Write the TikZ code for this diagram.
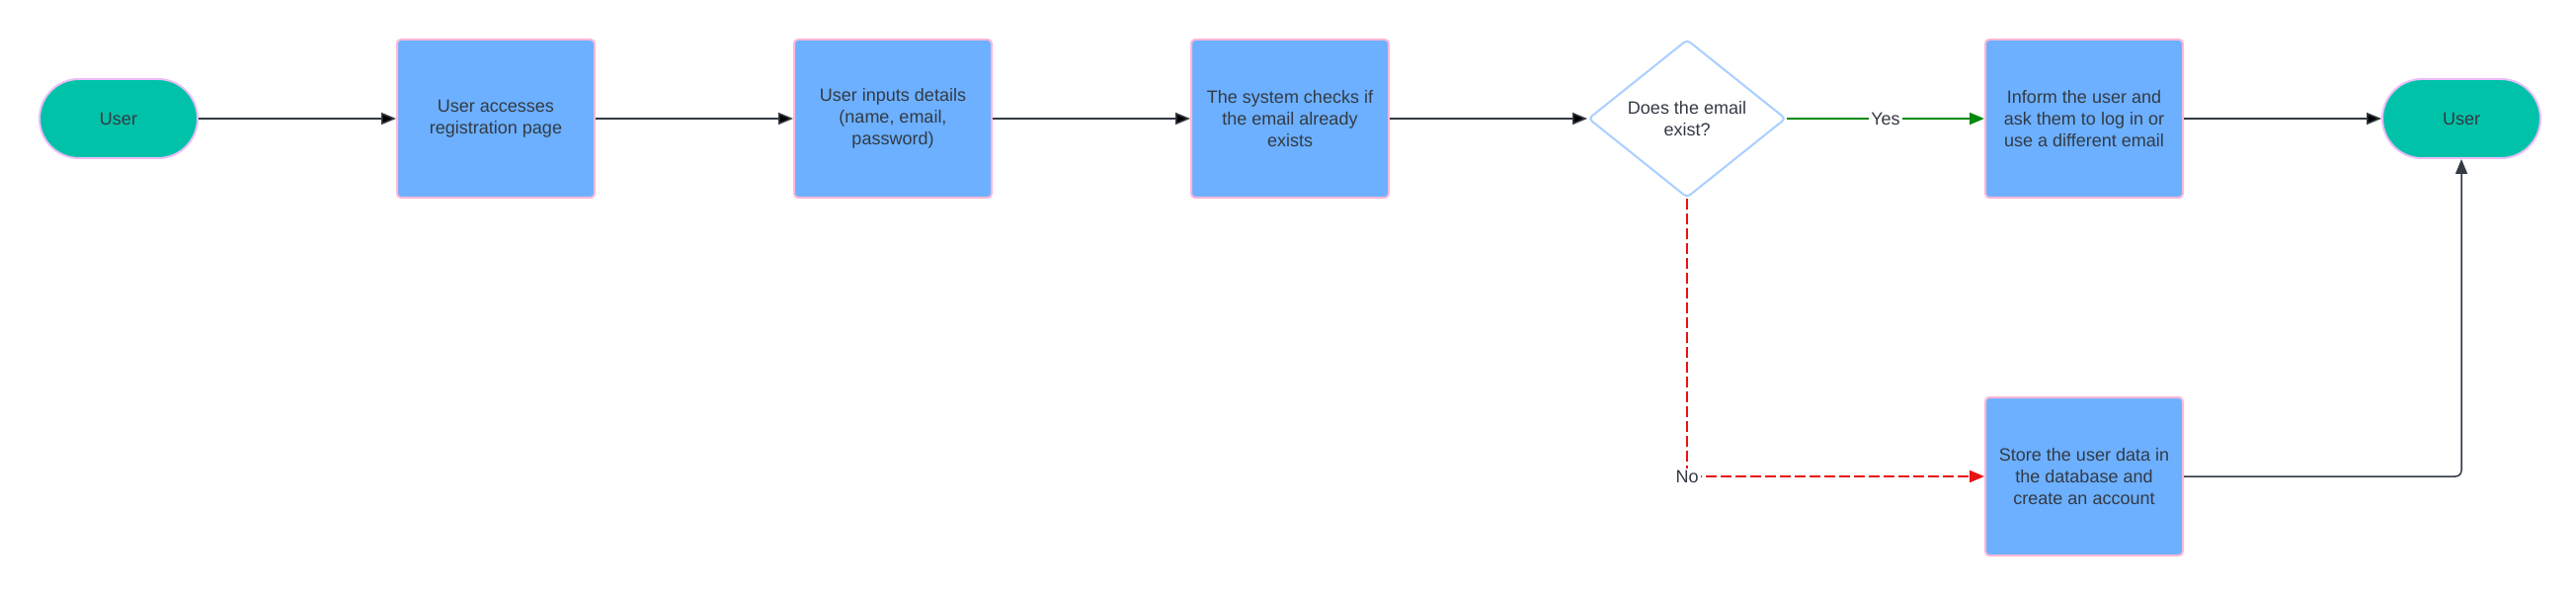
\documentclass[tikz,border=0pt]{standalone}
\usepackage{fontspec}
\setmainfont{Liberation Sans}
\usetikzlibrary{arrows.meta,positioning,shapes.geometric}

\definecolor{termfill}{HTML}{00C2A8}
\definecolor{termline}{HTML}{E9BDF7}
\definecolor{boxfill}{HTML}{6CB0FF}
\definecolor{boxline}{HTML}{FFB8D8}
\definecolor{diamline}{HTML}{A9CFFF}
\definecolor{inkgray}{HTML}{333A44}
\definecolor{yesgreen}{HTML}{008A0E}
\definecolor{nored}{HTML}{E81313}

\begin{document}
\begin{tikzpicture}[x=0.5pt,y=-0.5pt,>={Triangle[length=7.5pt,width=6pt]},node distance=100pt,
    every node/.style={font=\fontsize{9}{11}\selectfont,text=inkgray,align=center},
    term/.style={draw=termline,fill=termfill,line width=1pt,rounded corners=20pt,minimum width=80pt,minimum height=40pt},
    task/.style={draw=boxline,fill=boxfill,line width=1pt,rounded corners=2pt,minimum width=100pt,minimum height=80pt},
    decision/.style={diamond,draw=diamline,fill=white,line width=1pt,rounded corners=2pt,aspect=1.25,inner sep=0pt,minimum width=100pt,minimum height=80pt},
    flow/.style={draw=inkgray,line width=0.75pt},
    lbl/.style={fill=white,inner sep=1pt}]

                \useasboundingbox (0,0) rectangle (2608,604);

                \node[term] (user) at (120,120) {User};

                \node[task] (access) [right=of user] {User accesses\\registration page};

                \node[task] (inputs) [right=of access] {User inputs details\\(name, email,\\password)};

                \node[task] (check) [right=of inputs] {The system checks if\\the email already\\exists};

                \node[decision] (exists) [right=of check] {Does the email\\exist?};

                \node[task] (inform) [right=of exists] {Inform the user and\\ask them to log in or\\use a different email};

                \node[term] (done) [right=of inform] {User};

                \node[task] (store) [below=of inform] {Store the user data in\\the database and\\create an account};

                

                \path[->,flow] (user) edge (access)

                               (access) edge (inputs)

                               (inputs) edge (check)

                               (check) edge (exists)

                               (inform) edge (done);

                \draw[->,yesgreen,line width=1pt] (exists) -- node[lbl] {Yes} (inform);

                \draw[->,nored,line width=1pt,dash pattern=on 5.5pt off 2pt] (exists) |- node[lbl] {No} (store);

                \draw[->,flow,rounded corners=3pt] (store) -| (done);

            \end{tikzpicture}
\end{document}
